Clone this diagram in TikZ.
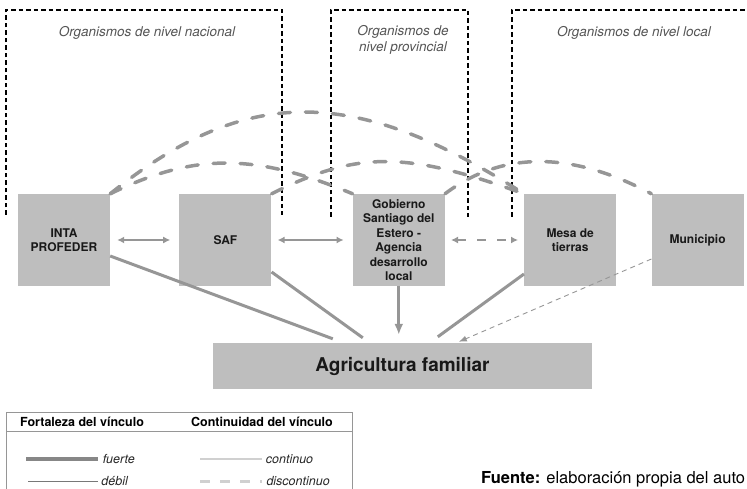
\documentclass[tikz,border=0pt]{standalone}
\usepackage{fontspec}
\setmainfont{TeX Gyre Heros}
\usepackage{tikz}
\usetikzlibrary{arrows.meta,positioning}

\definecolor{boxgray}{RGB}{190,190,190}
\definecolor{linkgray}{RGB}{150,150,150}
\definecolor{palegray}{RGB}{208,208,208}
\definecolor{labelgray}{RGB}{85,85,85}

\begin{document}
\begin{tikzpicture}[
  x=1pt, y=1pt,
  org/.style={rectangle, fill=boxgray, minimum width=92pt, minimum height=92pt,
              inner sep=0pt, align=center, text=black!90,
              font=\fontsize{12}{14.4}\selectfont\bfseries},
  target/.style={rectangle, fill=boxgray, minimum width=379pt, minimum height=46pt,
                 text=black!90, font=\fontsize{19}{22}\selectfont\bfseries},
  level/.style={align=center, text=labelgray,
                font=\fontsize{13.5}{15.5}\selectfont\itshape},
  frame/.style={draw=black, line width=1.1pt, dash pattern=on 4.5pt off 3pt},
  strongline/.style={draw=linkgray, line width=3pt},
  twoway/.style={{Latex[length=7pt,width=7pt]}-{Latex[length=7pt,width=7pt]},
                 draw=linkgray, line width=2.5pt},
  dashtwoway/.style={twoway, dash pattern=on 9pt off 11pt},
  weaklink/.style={-{Latex[length=8pt,width=6pt]}, draw=linkgray, line width=0.9pt,
                   dash pattern=on 5pt off 4pt},
  looselink/.style={draw=linkgray, line width=3.5pt, line cap=round,
                    dash pattern=on 12pt off 15pt},
  legendframe/.style={draw=linkgray, line width=0.8pt},
  head/.style={font=\fontsize{12.5}{14}\selectfont\bfseries},
  key/.style={right, inner sep=3pt, text=black!85,
              font=\fontsize{12.5}{14}\selectfont\itshape},
]
\useasboundingbox (0,0) rectangle (747,-489);
\clip (0,0) rectangle (747,-489);

% Levels
\draw[frame] (6,-215) |- (282,-10) -- (282,-215);
\draw[frame] (331,-217) |- (468,-10) -- (468,-217);
\draw[frame] (512,-217) |- (760,-10);
\node[level] (nac) at (147,-33) {Organismos de nivel nacional};
\node[level] (prov) at (403,-40) {Organismos de\\nivel provincial};
\node[level] (loc) at (634,-33) {Organismos de nivel local};

% Organisations
\node[org] (inta) at (64,-240) {INTA\\PROFEDER};
\node[org, right=69pt of inta] (saf) {SAF};
\node[org, right=81pt of saf] (gob) {Gobierno\\Santiago del\\Estero -\\Agencia\\desarrollo\\local};
\node[org, right=79pt of gob] (mesa) {Mesa de\\tierras};
\node[org, right=35pt of mesa] (muni) {Municipio};

% Target
\node[target] (agri) at (402.5,-366) {Agricultura familiar};

% Links between organisations
\draw[twoway, shorten <=7pt, shorten >=9pt] (inta) -- (saf);
\draw[twoway, shorten <=6pt, shorten >=9pt] (saf) -- (gob);
\draw[dashtwoway, shorten <=6pt, shorten >=6pt] (gob) -- (mesa);

% Links to the target
\draw[strongline] ([yshift=-16pt]inta.east) -- ([xshift=120pt,yshift=4pt]agri.north west);
\draw[strongline] ([yshift=-32pt]saf.east) -- ([xshift=150pt,yshift=5pt]agri.north west);
\draw[strongline, -{Latex[length=11pt,width=9pt]}, shorten >=8pt] (gob) -- (gob.south |- agri.north);
\draw[strongline] ([yshift=-34pt]mesa.west) -- ([xshift=225pt,yshift=6pt]agri.north west);
\draw[weaklink] ([yshift=-19pt]muni.west) -- ([xshift=246pt,yshift=1pt]agri.north west);

% Discontinuous links (arcs)
\draw[looselink] (inta.north east) .. controls +(136,109) and +(-170,109) .. (mesa.north west);
\draw[looselink] (inta.north east) .. controls +(84,41) and +(-98,41) .. (gob.north west);
\draw[looselink] (saf.north east) .. controls +(86,43) and +(-119,43) .. (mesa.north west);
\draw[looselink] (gob.north east) .. controls +(57,43) and +(-80,43) .. (muni.north west);

% Legend
\draw[legendframe] (6,-500) |- (352,-412) -- (352,-500);
\draw[legendframe] (6,-431) -- (352,-431);
\node[head] (hfort) at (82,-422) {Fortaleza del vínculo};
\node[head] (hcont) at (262,-422) {Continuidad del vínculo};
\draw[draw=linkgray!90!black, line width=3.5pt] (26,-459) -- (98,-459) node[key] (kfue) {fuerte};
\draw[draw=linkgray!80!black, line width=0.8pt] (28,-481) -- (98,-481) node[key] (kdeb) {débil};
\draw[draw=palegray, line width=1.8pt] (200,-459) -- (262,-459) node[key] (kcon) {continuo};
\draw[draw=palegray, line width=3pt, dash pattern=on 10pt off 10pt] (200,-481) -- (262,-481) node[key] (kdis) {discontinuo};

% Source
\node[anchor=base west, inner sep=0pt, font=\fontsize{16.5}{18}\selectfont] (src) at (481,-483)
  {\textbf{Fuente:} elaboración propia del auto};

\end{tikzpicture}
\end{document}
